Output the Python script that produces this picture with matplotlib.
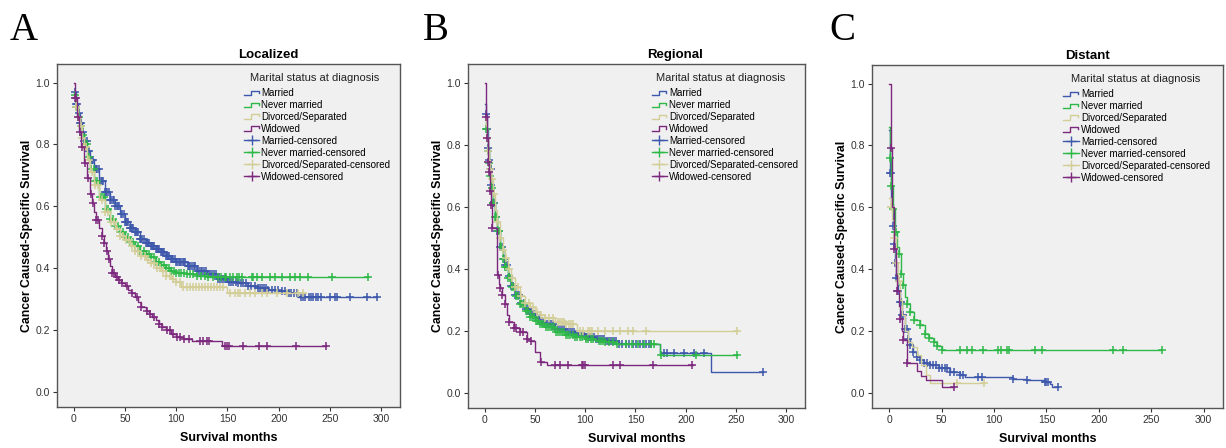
import numpy as np
import matplotlib.pyplot as plt
from matplotlib.lines import Line2D
from matplotlib.legend_handler import HandlerBase

plt.rcParams['font.family'] = ['Liberation Sans', 'DejaVu Sans']

groups = ['Married', 'Never married', 'Divorced/Separated', 'Widowed']
colors = ['#3e58ac', '#2eb848', '#d3ce97', '#7c287d']
titles = ['Localized', 'Regional', 'Distant']
letters = ['A', 'B', 'C']

# ---- Localized: KM knots (months, survival) and censored times
A_mar_t = [0, 2, 4, 6, 8, 10, 13, 16, 20, 25, 30, 35, 40, 45, 50, 55, 60, 65, 70, 75, 80, 85, 90, 95, 100,
           110, 120, 130, 140, 150, 160, 170, 180, 190, 200, 210, 219, 296]
A_mar_s = [0.97, 0.93, 0.90, 0.87, 0.84, 0.81, 0.78, 0.75, 0.72, 0.68, 0.645, 0.62, 0.60, 0.575, 0.55, 0.53,
           0.515, 0.495, 0.48, 0.47, 0.46, 0.45, 0.44, 0.43, 0.42, 0.405, 0.39, 0.38, 0.365, 0.355, 0.35,
           0.34, 0.335, 0.33, 0.325, 0.32, 0.305, 0.305]
A_nev_t = [0, 2, 4, 6, 8, 10, 13, 16, 20, 25, 30, 35, 40, 45, 50, 55, 60, 65, 70, 75, 80, 85, 90, 95, 100,
           110, 120, 130, 287]
A_nev_s = [0.96, 0.92, 0.89, 0.86, 0.83, 0.80, 0.76, 0.72, 0.68, 0.63, 0.59, 0.56, 0.535, 0.515, 0.50, 0.485,
           0.47, 0.455, 0.445, 0.435, 0.42, 0.41, 0.40, 0.39, 0.385, 0.38, 0.375, 0.37, 0.37]
A_div_t = [0, 2, 4, 6, 8, 10, 13, 16, 20, 25, 30, 35, 40, 45, 50, 55, 60, 65, 70, 75, 80, 85, 90, 95, 100,
           105, 150, 225]
A_div_s = [0.95, 0.92, 0.89, 0.86, 0.82, 0.79, 0.75, 0.71, 0.67, 0.62, 0.58, 0.55, 0.525, 0.505, 0.49, 0.47,
           0.455, 0.44, 0.425, 0.415, 0.40, 0.39, 0.375, 0.365, 0.355, 0.338, 0.318, 0.318]
A_wid_t = [0, 1, 3, 5, 7, 10, 13, 16, 18, 20, 22, 25, 27, 29, 31, 33, 35, 37, 40, 43, 46, 50, 53, 56, 60,
           63, 66, 70, 73, 76, 80, 83, 86, 90, 95, 100, 107, 115, 145, 246]
A_wid_s = [1.0, 0.95, 0.89, 0.84, 0.79, 0.74, 0.69, 0.64, 0.61, 0.58, 0.555, 0.53, 0.505, 0.48, 0.455, 0.43,
           0.405, 0.385, 0.37, 0.36, 0.35, 0.34, 0.33, 0.32, 0.305, 0.29, 0.275, 0.26, 0.25, 0.24, 0.23,
           0.22, 0.21, 0.20, 0.185, 0.178, 0.17, 0.165, 0.146, 0.146]

A_mar_c = [1, 2, 3, 4.5, 6, 7, 8.5, 10, 11, 12.5, 14, 15, 16.5, 18, 19, 20.5, 22, 23, 24.5, 26, 27, 28.5, 30,
           31, 32.5, 34, 35, 36.5, 38, 39, 40.5, 42, 43, 44.5, 46, 47, 48.5, 50, 51, 52, 53, 55, 56, 57, 58,
           60, 61, 62, 63, 65, 66, 67, 68, 70, 71, 72, 73, 75, 76, 77, 78, 80, 81, 82, 83, 85, 86, 87, 88,
           90, 91, 92, 93, 95, 96, 97, 99, 100, 101, 103, 104, 105, 107, 108, 109, 111, 112, 113, 115, 117,
           118, 120, 122, 124, 125, 127, 129, 131, 133, 135, 137, 139, 141, 143, 145, 147, 149, 151, 153,
           155, 158, 160, 163, 165, 168, 170, 173, 177, 180, 182, 184, 186, 188, 190, 193, 196, 199, 203,
           206, 210, 212, 215, 218, 222, 224, 226, 230, 232, 234, 236, 238, 241, 250, 255, 257, 270, 286, 296]
A_nev_c = [1, 2.5, 5, 6.5, 9, 11, 12.5, 15, 17, 19.5, 21, 23, 25.5, 27, 29, 31.5, 33, 35, 38, 40, 43, 45, 48,
           50, 53, 55, 58, 60, 63, 65, 68, 70, 73, 75, 78, 80, 83, 85, 88, 90, 93, 95, 98, 100, 103, 105, 108,
           110, 113, 116, 120, 124, 128, 131, 136, 141, 144, 147.6, 149, 152.5, 155.7, 159, 161.6, 164, 173.7,
           175, 178.6, 183.5, 191.6, 196.5, 203, 211, 216, 221, 229, 252, 287]
A_div_c = [2, 4, 6.5, 8, 10, 12, 15, 18, 21, 24, 27, 30, 33, 36, 39, 42, 45, 48, 51, 54, 57, 60, 63, 66, 69,
           72, 75, 78, 81, 84, 87, 90, 94, 97, 100, 104, 107, 110, 113, 116, 119, 122, 125, 128, 131, 134,
           137, 140, 143, 146, 152.5, 157.4, 160.6, 162.3, 167, 172, 177, 183.5, 188.4, 198, 207.8, 219, 224]
A_wid_c = [1, 2, 4, 6, 8, 11, 14, 17, 19, 22, 24, 27, 29, 32, 34, 37, 39, 42, 44, 47, 52, 57, 62, 66, 71,
           74, 78, 83, 86, 91, 94, 97, 101, 104, 108, 112, 123, 126.4, 129.7, 132.3, 147.6, 149.3, 151.8,
           165, 181, 189, 217, 246]

# ---- Regional
B_mar_t = [0, 1, 2, 3, 4, 5, 6, 8, 10, 12, 15, 18, 20, 23, 26, 30, 35, 40, 45, 50, 55, 60, 70, 80, 90, 100,
           110, 120, 134, 174, 225, 277]
B_mar_s = [0.93, 0.90, 0.85, 0.79, 0.75, 0.72, 0.67, 0.61, 0.565, 0.52, 0.47, 0.43, 0.41, 0.375, 0.345,
           0.315, 0.29, 0.268, 0.252, 0.24, 0.228, 0.22, 0.205, 0.195, 0.188, 0.18, 0.172, 0.165, 0.158,
           0.126, 0.066, 0.066]
B_nev_t = [0, 1, 2, 3, 4, 5, 6, 8, 10, 12, 15, 18, 20, 23, 26, 30, 35, 40, 45, 50, 55, 60, 70, 80, 90, 100,
           110, 120, 130, 174, 251]
B_nev_s = [0.89, 0.85, 0.81, 0.78, 0.74, 0.70, 0.66, 0.61, 0.565, 0.52, 0.47, 0.43, 0.405, 0.37, 0.34,
           0.31, 0.285, 0.262, 0.245, 0.232, 0.22, 0.21, 0.195, 0.185, 0.178, 0.172, 0.167, 0.162, 0.158,
           0.12, 0.12]
B_div_t = [0, 1, 2, 3, 4, 5, 6, 8, 10, 12, 15, 18, 20, 23, 26, 30, 35, 40, 45, 50, 55, 60, 70, 80, 92, 251]
B_div_s = [0.89, 0.86, 0.82, 0.78, 0.75, 0.72, 0.69, 0.64, 0.59, 0.55, 0.50, 0.46, 0.435, 0.40, 0.37, 0.34,
           0.31, 0.29, 0.275, 0.26, 0.25, 0.24, 0.228, 0.22, 0.20, 0.20]
B_wid_t = [0, 1, 2, 3, 4, 5, 6, 7.6, 12.5, 14, 15.8, 17.4, 20.7, 22, 24, 28.9, 35.5, 42, 45, 50, 55, 62, 207]
B_wid_s = [1.0, 0.89, 0.82, 0.745, 0.71, 0.65, 0.605, 0.53, 0.38, 0.35, 0.336, 0.314, 0.287, 0.25, 0.228,
           0.207, 0.195, 0.174, 0.165, 0.131, 0.099, 0.088, 0.088]

B_mar_c = [1, 2.6, 3.3, 4.3, 5.9, 6.5, 8, 9.2, 11, 12.5, 14, 15.5, 17.4, 19, 20.5, 22.3, 24, 26, 28, 30.6,
           32, 34, 36, 38.8, 41, 43, 45, 47, 49, 51, 53.6, 56, 58, 60, 62, 64, 66, 68, 70, 73, 75, 77, 79, 81,
           83, 85, 87, 89, 91, 93, 95, 97, 99, 101, 103, 105, 107, 109, 111, 113, 115, 117, 119, 121, 123,
           125, 127, 129, 131, 134, 137, 140.8, 144, 147.4, 150.7, 154, 157.3, 160.6, 163.9, 165.5, 178.4,
           181.7, 188.3, 198, 208, 218, 277]
B_nev_c = [1.5, 3, 4, 5, 7, 8.5, 10, 11.5, 13, 14.5, 16, 18, 20, 21.5, 23, 25, 27, 29, 31, 33, 35, 37, 39,
           41, 43, 45, 47, 49, 51, 53, 55, 57, 59, 61, 63, 65, 67, 69, 71, 73, 75, 77, 79, 81, 83, 85, 88, 90,
           92, 95, 97, 101, 103, 106, 108, 114, 116, 118, 120, 124, 128, 132, 140.8, 147, 152, 158.6, 165.2,
           168.5, 175, 210, 251]
B_div_c = [2, 3.5, 5, 7, 9, 12, 15, 18, 21, 24, 27, 30, 33, 36, 40, 44, 48, 52, 56, 60, 64, 68, 73, 75, 77,
           79, 81, 84, 86, 88, 95, 98, 103, 104.6, 106.3, 112.8, 119.4, 127.6, 134.3, 142.5, 147.4, 160.6, 251]
B_wid_c = [1, 2, 3, 4, 5, 6, 7.6, 13.5, 15.8, 17.4, 20.7, 24, 28.9, 31, 35.5, 38, 42, 46, 56, 70, 75, 83,
           96.4, 98, 99.7, 127.6, 134.3, 167, 206.6]

# ---- Distant
C_mar_t = [0, 1, 2, 3.5, 4.8, 5.7, 6.7, 8, 9.8, 12, 15, 18, 20, 23, 26, 29.5, 33, 39, 47, 58, 67.6, 72,
           118, 131, 148.6, 153, 155, 161]
C_mar_s = [0.85, 0.71, 0.61, 0.54, 0.48, 0.42, 0.37, 0.33, 0.293, 0.25, 0.207, 0.174, 0.155, 0.131, 0.115,
           0.104, 0.095, 0.088, 0.078, 0.067, 0.056, 0.05, 0.045, 0.04, 0.035, 0.029, 0.018, 0.018]
C_nev_t = [0, 1, 2, 3.5, 5, 7, 8.9, 11.1, 13, 15, 16.8, 20, 24, 29.5, 34.3, 38, 42.2, 46, 50, 260.7]
C_nev_s = [0.86, 0.76, 0.67, 0.594, 0.52, 0.47, 0.449, 0.384, 0.347, 0.31, 0.287, 0.26, 0.235, 0.217, 0.19,
           0.175, 0.163, 0.15, 0.138, 0.138]
C_div_t = [0, 1.7, 3, 4.3, 6, 8, 10, 12, 15, 18, 21.6, 26.3, 30, 35, 39, 90.8]
C_div_s = [0.63, 0.60, 0.56, 0.50, 0.42, 0.36, 0.30, 0.25, 0.20, 0.165, 0.147, 0.12, 0.09, 0.056, 0.032, 0.032]
C_wid_t = [0, 1.3, 2.5, 4.3, 6, 7.3, 9, 10.5, 12, 13.3, 16.5, 26, 30, 35, 50, 62]
C_wid_s = [1.0, 0.793, 0.60, 0.465, 0.38, 0.33, 0.28, 0.239, 0.20, 0.169, 0.095, 0.07, 0.055, 0.04, 0.018,
           0.018]

C_mar_c = [1, 1.9, 3.5, 4.8, 5.7, 6.7, 8, 9.8, 11, 12, 13.5, 15, 16.5, 18.1, 20, 23, 26, 29.5, 33, 36, 39,
           42, 45, 47, 50, 53, 55, 58, 62, 67.6, 70, 85, 88.3, 118.4, 131, 148.6, 150, 151.7, 161]
C_nev_c = [1, 2, 3.5, 5, 6.5, 8.9, 11.1, 13, 16.8, 20, 24, 29.5, 34.3, 38, 42.2, 46, 50.5, 67.6, 74, 78.8,
           89, 104, 106.3, 112, 114.6, 139, 145.4, 213.6, 223, 260.7]
C_div_c = [1.7, 4.3, 6, 9, 64.5, 90.8]
C_wid_c = [1.3, 4.3, 7.3, 10.5, 13.3, 16.5, 62]

panels = [
    [(A_mar_t, A_mar_s, A_mar_c), (A_nev_t, A_nev_s, A_nev_c), (A_div_t, A_div_s, A_div_c), (A_wid_t, A_wid_s, A_wid_c)],
    [(B_mar_t, B_mar_s, B_mar_c), (B_nev_t, B_nev_s, B_nev_c), (B_div_t, B_div_s, B_div_c), (B_wid_t, B_wid_s, B_wid_c)],
    [(C_mar_t, C_mar_s, C_mar_c), (C_nev_t, C_nev_s, C_nev_c), (C_div_t, C_div_s, C_div_c), (C_wid_t, C_wid_s, C_wid_c)],
]


class StepHandler(HandlerBase):
    # little step glyph SPSS uses for the survival function entries
    def create_artists(self, legend, orig_handle, xdescent, ydescent, width, height, fontsize, trans):
        xs = np.array([0.0, 0.45, 0.45, 0.95, 0.95]) * width - xdescent
        ys = np.array([0.15, 0.15, 0.8, 0.8, 0.5]) * height - ydescent
        ln = Line2D(xs, ys, color=orig_handle.get_color(), lw=1)
        ln.set_transform(trans)
        return [ln]


fig = plt.figure(figsize=(12.26, 4.48), dpi=100)
boxes = [[57, 41, 343, 343], [468, 40, 337, 344], [872, 40, 351, 343]]
letter_x = [10, 423, 829]

for k in range(3):
    x0, y0, w, h = boxes[k]
    ax = fig.add_axes([x0 / 1226, y0 / 448, w / 1226, h / 448])
    ax.set_facecolor('#f0f0f0')
    for g in range(4):
        t, s, c = panels[k][g]
        t = np.array(t)
        s = np.array(s)
        ax.plot(t, s, drawstyle='steps-post', color=colors[g], lw=1)
        idx = np.searchsorted(t, c, side='right') - 1
        ax.plot(c, s[np.clip(idx, 0, len(s) - 1)], ls='none', marker='+', ms=6, mew=1.1, color=colors[g])
    ax.set_xlim(-16.5, 318.5)
    ax.set_ylim(-0.05, 1.06)
    ax.set_xticks([0, 50, 100, 150, 200, 250, 300])
    ax.set_yticks([0.0, 0.2, 0.4, 0.6, 0.8, 1.0])
    ax.set_yticklabels(['0.0', '0.2', '0.4', '0.6', '0.8', '1.0'])
    ax.tick_params(labelsize=7.5, length=3, width=0.8, colors='#333333', pad=2)
    for sp in ax.spines.values():
        sp.set_color('#555555')
        sp.set_linewidth(1)
    ax.set_xlabel('Survival months', fontsize=9, fontweight='bold', labelpad=6)
    ax.set_ylabel('Cancer Caused-Specific Survival', fontsize=8.8, fontweight='bold', labelpad=2)
    ax.text(0.615, 1.01, titles[k], transform=ax.transAxes, ha='center', va='bottom',
            fontsize=9.5, fontweight='bold')
    fig.text(letter_x[k] / 1226, 1 - 12 / 448, letters[k], family='Liberation Serif',
             fontsize=28, va='top', ha='left')

    handles = [Line2D([], [], color=cl) for cl in colors]
    handles += [Line2D([], [], color=cl, lw=1, marker='+', ms=7, mew=1) for cl in colors]
    labels = groups + [gname + '-censored' for gname in groups]
    hmap = {hd: StepHandler() for hd in handles[:4]}
    ax.text(0.75, 0.959, 'Marital status at diagnosis', transform=ax.transAxes, ha='center',
            va='center', fontsize=8, color='#222222')
    ax.legend(handles, labels, loc='upper left', bbox_to_anchor=(0.545, 0.93), frameon=False,
              fontsize=7.0, handlelength=1.6, handletextpad=0.2, labelspacing=0.2, borderpad=0,
              borderaxespad=0, numpoints=1, handler_map=hmap)

fig.savefig('out.png', dpi=100)
